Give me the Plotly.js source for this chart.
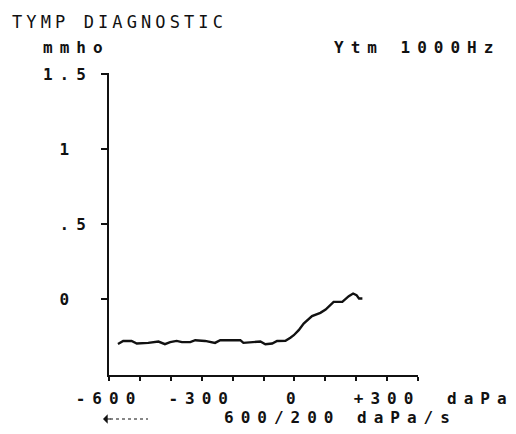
<!DOCTYPE html>
<html>
<head>
<meta charset="utf-8">
<script src="https://cdn.plot.ly/plotly-3.0.1.min.js"></script>
<style>
  html, body { margin: 0; padding: 0; background: #fff; }
  #chart { width: 516px; height: 434px; }
  .main-svg text { letter-spacing: 7px; }
  .main-svg .gtitle { letter-spacing: 4.1px; }
</style>
</head>
<body>
<div id="chart"></div>
<script>
// Pressure (daPa) and admittance (mmho)
const pressure = [-571, -554, -527, -510, -473, -440, -419, -402, -381, -364, -337, -321, -289, -257, -240, -175, -165, -110, -94, -72, -56, -29, -13, -2, 14, 30, 57, 84, 101, 127, 155, 176, 190, 201, 209, 220];
const admittance = [-0.298, -0.278, -0.278, -0.295, -0.291, -0.282, -0.300, -0.286, -0.278, -0.286, -0.286, -0.273, -0.278, -0.291, -0.273, -0.273, -0.291, -0.282, -0.300, -0.295, -0.278, -0.277, -0.257, -0.240, -0.206, -0.162, -0.113, -0.091, -0.069, -0.018, -0.018, 0.020, 0.038, 0.027, 0.005, 0.005];

const xTickVals = [-600, -500, -400, -300, -200, -100, 0, 100, 200, 300, 400];
const xTickText = ["-600", "", "", "-300", "", "", "0", "", "", "+300", ""];
const yTickVals = [0, 0.5, 1, 1.5];
// the printer pads one-digit labels to its three-column field
const yTickText = ["0\u00a0", ".5", "1\u00a0", "1.5"];

const titleText = "TYMP DIAGNOSTIC";
const yUnit = "mmho";
const probeText = "Ytm 1000Hz";
const xUnit = "daPa";
const rateText = "600/200 daPa/s";

const FONT = {family: "DejaVu Sans Mono", size: 16, color: "#111", weight: "bold"};
const TITLE_FONT = {family: "DejaVu Sans Mono", size: 17, color: "#111", weight: "normal"};

const trace = {
  x: pressure, y: admittance, type: "scatter", mode: "lines",
  line: {color: "#111", width: 2.4}, hoverinfo: "skip"
};

function ann(text, px, py) {
  return {text: text, xref: "paper", yref: "paper", x: (px - 109) / 309, y: (375 - py) / 302,
          xanchor: "left", yanchor: "middle", align: "left", showarrow: false,
          borderpad: 0, font: FONT};
}

const layout = {
  width: 516, height: 434,
  margin: {l: 109, r: 98, t: 73, b: 59},
  paper_bgcolor: "#fff", plot_bgcolor: "#fff", showlegend: false, font: FONT,
  title: {text: titleText, font: TITLE_FONT, x: 12/516, xanchor: "left", xref: "container",
          y: 1 - 22/434, yanchor: "middle", yref: "container"},
  xaxis: {
    range: [-600, 400], showgrid: false, zeroline: false,
    showline: true, linecolor: "#111", linewidth: 2,
    ticks: "outside", ticklen: 4, tickwidth: 2, tickcolor: "#111",
    tickmode: "array", tickvals: xTickVals, ticktext: xTickText,
    tickfont: FONT, ticklabelstandoff: 4, fixedrange: true
  },
  yaxis: {
    range: [-0.505, 1.507], showgrid: false, zeroline: false,
    showline: true, linecolor: "#111", linewidth: 2,
    ticks: "outside", ticklen: 6, tickwidth: 2, tickcolor: "#111",
    tickmode: "array", tickvals: yTickVals, ticktext: yTickText,
    tickfont: FONT, ticklabelstandoff: 5, fixedrange: true
  },
  annotations: [
    ann(yUnit, 42, 47),
    ann(probeText, 333, 47),
    ann(xUnit, 446, 398),
    ann(rateText, 223, 417),
    {text: "", xref: "paper", yref: "paper", x: (103-109)/309, y: (375-419)/302,
     showarrow: true, ax: 9, ay: 0, arrowhead: 1, arrowsize: 1.3, arrowwidth: 1.2, arrowcolor: "#111"}
  ],
  shapes: [
    {type: "line", xref: "paper", yref: "paper", x0: (110-109)/309, x1: (148-109)/309,
     y0: (375-419)/302, y1: (375-419)/302, line: {color: "#111", width: 1.2, dash: "dot"}}
  ]
};

Plotly.newPlot("chart", [trace], layout, {displayModeBar: false, staticPlot: true});
</script>
</body>
</html>
